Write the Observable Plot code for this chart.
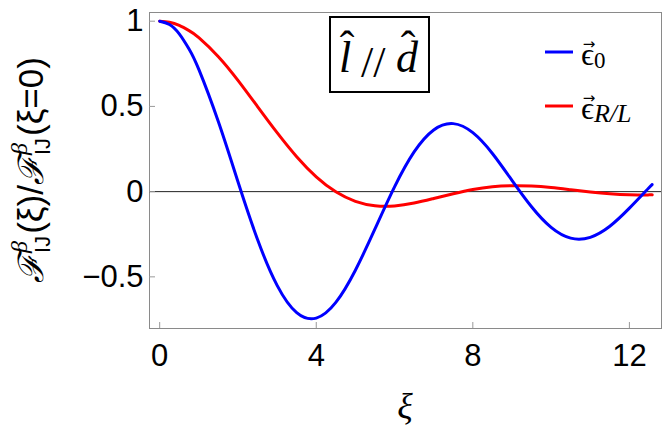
<!DOCTYPE html>
<html>
<head>
<meta charset="utf-8">
<script src="https://cdn.jsdelivr.net/npm/d3@7"></script>
<script src="https://cdn.jsdelivr.net/npm/@observablehq/plot@0.6"></script>
<style>
  html, body { margin: 0; padding: 0; background: white; }
  svg { display: block; }
</style>
</head>
<body>
<div id="chart"></div>
<script>
// ξ sample positions
const xi = [0, 0.25, 0.5, 0.75, 1, 1.5, 2, 2.5, 3, 3.5, 4, 4.5, 5, 5.5, 6, 6.5, 7, 7.5, 8, 8.5, 9, 9.5, 10, 10.5, 11, 11.5, 12, 12.5, 12.57];
// blue curve: ε⃗0
const eps0 = [1, 0.981, 0.926, 0.837, 0.717, 0.410, 0.058, -0.281, -0.550, -0.710, -0.742, -0.650, -0.461, -0.219, 0.028, 0.233, 0.362, 0.399, 0.346, 0.224, 0.066, -0.089, -0.210, -0.273, -0.268, -0.203, -0.097, 0.023, 0.038];
// red curve: ε⃗R/L
const epsRL = [1, 0.994, 0.975, 0.945, 0.904, 0.792, 0.653, 0.499, 0.346, 0.205, 0.087, -0.001, -0.057, -0.083, -0.084, -0.067, -0.040, -0.012, 0.013, 0.029, 0.035, 0.033, 0.024, 0.011, -0.002, -0.013, -0.019, -0.019, -0.019];
const xTicks = [0, 4, 8, 12];
const yTicks = [-0.5, 0, 0.5, 1];
const seriesNames = ["ϵ0", "ϵR/L"];
const seriesColors = ["#0000ff", "#ff0000"];

const blueRows = xi.map((x, i) => ({x, y: eps0[i]}));
const redRows = xi.map((x, i) => ({x, y: epsRL[i]}));
const fmt = d3.format("~g");

const W = 664, H = 432;
const plot = Plot.plot({
  width: W, height: H,
  marginLeft: 149, marginRight: 3, marginTop: 12, marginBottom: 104,
  x: {domain: [-0.26, 12.82]},
  y: {domain: [-0.803, 1.051]},
  style: {fontFamily: "'Liberation Sans', Arial, sans-serif", background: "white", color: "black"},
  marks: [
    Plot.frame({stroke: "#8a8a8a", strokeWidth: 1}),
    Plot.ruleY([0], {stroke: "#222", strokeWidth: 1}),
    Plot.tickY(yTicks, {y: d => d, stroke: "#999", insetRight: 506}),
    Plot.tickX(xTicks, {x: d => d, stroke: "#999", insetTop: 310}),
    Plot.axisY(yTicks, {tickSize: 0, tickPadding: 6, fontSize: 31, tickFormat: fmt, label: null}),
    Plot.axisX(xTicks, {tickSize: 0, tickPadding: 15, fontSize: 31, tickFormat: fmt, label: null}),
    Plot.line(redRows, {x: "x", y: "y", stroke: seriesColors[1], strokeWidth: 3, curve: "natural"}),
    Plot.line(blueRows, {x: "x", y: "y", stroke: seriesColors[0], strokeWidth: 3, curve: "natural"})
  ]
});
document.getElementById("chart").append(plot);
const svg = d3.select(plot);
const ann = svg.append("g").attr("text-anchor", "start");

// x-axis label ξ
ann.append("text").attr("x", 405).attr("y", 418)
  .attr("text-anchor", "middle")
  .attr("font-family", "'Liberation Serif', 'DejaVu Serif', serif")
  .attr("font-style", "italic").attr("font-size", 36).text("ξ");

// y-axis label ℱ^β_IJ(ξ)/ℱ^β_IJ(ξ=0)
const gy = ann.append("g").attr("text-anchor", "start");
function layout(parent, items) {
  let x = 0;
  for (const it of items) {
    if (it.stack) {
      let w = 0;
      for (const s of it.stack) {
        const t = parent.append("text").attr("x", x).attr("y", s.dy)
          .attr("font-size", s.fs).attr("font-family", s.ff || "'Liberation Sans', sans-serif")
          .attr("font-style", s.it ? "italic" : null).text(s.t);
        w = Math.max(w, t.node().getComputedTextLength());
      }
      x += w + (it.gap || 0);
    } else {
      const t = parent.append("text").attr("x", x).attr("y", it.dy || 0)
        .attr("font-size", it.fs).attr("font-family", it.ff || "'Liberation Sans', sans-serif")
        .attr("font-style", it.it ? "italic" : null).text(it.t);
      x += t.node().getComputedTextLength() + (it.gap || 0);
    }
  }
  return x;
}
const F = {t: "ℱ", fs: 35, ff: "'DejaVu Serif', serif", it: true, gap: 1};
const BI = {stack: [{t: "β", fs: 24, dy: -16, ff: "'Liberation Serif', serif", it: true}, {t: "IJ", fs: 22, dy: 7}], gap: 2};
const L = layout(gy, [
  F, BI,
  {t: "(ξ)/", fs: 35},
  F, BI,
  {t: "(ξ=0)", fs: 35}
]);
gy.attr("transform", `translate(43, ${170 + L / 2}) rotate(-90)`);

// inset box  l̂ // d̂
ann.append("rect").attr("x", 330).attr("y", 17).attr("width", 99).attr("height", 75)
  .attr("fill", "white").attr("stroke", "black").attr("stroke-width", 2);
const serif = "'Liberation Serif', 'DejaVu Serif', serif";
ann.append("text").attr("x", 339).attr("y", 72).attr("font-family", serif)
  .attr("font-style", "italic").attr("font-size", 44).text("l");
ann.append("text").attr("x", 347).attr("y", 61).attr("text-anchor", "middle").attr("font-family", serif)
  .attr("font-size", 44).text("ˆ");
ann.append("text").attr("x", 361).attr("y", 77).attr("font-family", serif)
  .attr("font-size", 44).attr("letter-spacing", 0).text("//");
ann.append("text").attr("x", 396).attr("y", 72).attr("font-family", serif)
  .attr("font-style", "italic").attr("font-size", 44).text("d");
ann.append("text").attr("x", 408).attr("y", 61).attr("text-anchor", "middle").attr("font-family", serif)
  .attr("font-size", 44).text("ˆ");

// legend
const legY = [52, 106];
seriesNames.forEach((name, i) => {
  const y = legY[i];
  ann.append("line").attr("x1", 545).attr("x2", 573).attr("y1", y).attr("y2", y)
    .attr("stroke", seriesColors[i]).attr("stroke-width", 3);
  const t = ann.append("text").attr("x", 581).attr("y", y + 13)
    .attr("font-family", serif).attr("font-size", 32);
  t.append("tspan").text("ϵ");
  t.append("tspan").attr("dy", 3).attr("font-size", i === 0 ? 23 : 26)
    .attr("font-style", i === 0 ? null : "italic").text(name.slice(1));
  ann.append("text").attr("x", 589).attr("y", y - 3).attr("text-anchor", "middle")
    .attr("font-family", "'DejaVu Sans', sans-serif").attr("font-size", 15).text("→");
});
</script>
</body>
</html>
